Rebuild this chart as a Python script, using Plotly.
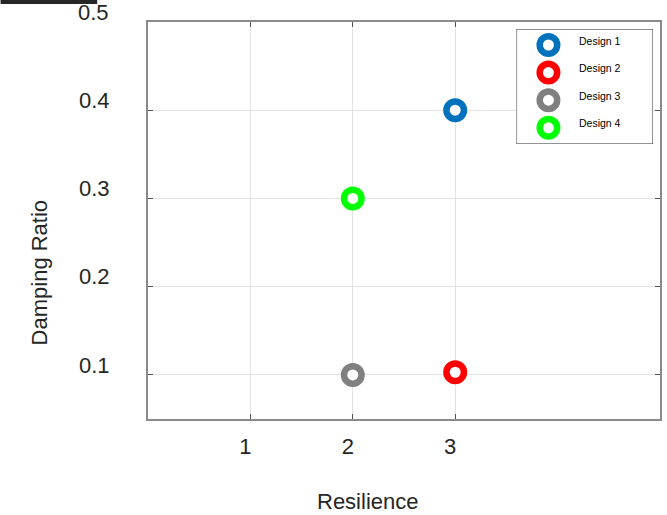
import plotly.graph_objects as go

# ---- data ----
designs = ["Design 1", "Design 2", "Design 3", "Design 4"]
resilience = [3, 3, 2, 2]
damping = [0.4, 0.103, 0.1, 0.3]
colors = ["#0072BD", "#FF0000", "#808080", "#00FF00"]
x_ticks = [1, 2, 3]
y_ticks = [0.1, 0.2, 0.3, 0.4, 0.5]
y_tick_text = ["0.1", "0.2", "0.3", "0.4", "0.5"]

FONT = "Liberation Sans, Arial, sans-serif"
TXT = "#262626"
W, H = 667, 515
L, R, T, B = 148, 5, 22, 96
pw, ph = W - L - R, H - T - B


def px2paper_x(px):
    return (px - L) / pw


def px2paper_y(py):
    return (H - B - py) / ph


fig = go.Figure()

ring = dict(size=17.5, line=dict(width=6.5))
for name, xv, yv, c in zip(designs, resilience, damping, colors):
    fig.add_trace(go.Scatter(
        x=[xv], y=[yv], mode="markers", name=name, showlegend=False,
        marker=dict(symbol="circle", color="white", size=ring["size"],
                    line=dict(color=c, width=ring["line"]["width"])),
        xaxis="x", yaxis="y", cliponaxis=False,
    ))

# ---- custom legend (own axes in pixel units) ----
lg_x0, lg_x1, lg_y0, lg_y1 = 518, 655, 29, 144
lg_w, lg_h = lg_x1 - lg_x0, lg_y1 - lg_y0
row0, row_gap = 16, 27.6
for i, (name, c) in enumerate(zip(designs, colors)):
    fig.add_trace(go.Scatter(
        x=[32], y=[row0 + i * row_gap], mode="markers", showlegend=False,
        hoverinfo="skip",
        marker=dict(symbol="circle", color="white", size=ring["size"],
                    line=dict(color=c, width=ring["line"]["width"])),
        xaxis="x2", yaxis="y2", cliponaxis=False,
    ))
    fig.add_annotation(x=61, y=row0 + i * row_gap - 4.5, xref="x2", yref="y2",
                       text=name, showarrow=False, xanchor="left", yanchor="middle",
                       font=dict(family=FONT, size=10.5, color="#000000"))

fig.add_shape(type="rect", xref="x2", yref="y2", x0=0, x1=lg_w, y0=0, y1=lg_h,
              fillcolor="white", line=dict(color="#262626", width=1), layer="below")

axis_common = dict(
    showline=True, linecolor="#8a8a8a", linewidth=2, mirror="ticks",
    ticks="inside", ticklen=5, tickcolor="#555555", tickwidth=1,
    showgrid=True, gridcolor="#e3e3e3", gridwidth=1, zeroline=False,
    tickfont=dict(family=FONT, size=22, color=TXT),
)

# the top label sits above the axes; it is written as an annotation below
y_axis_text = [t if v < max(y_ticks) else "" for v, t in zip(y_ticks, y_tick_text)]

fig.update_layout(
    width=W, height=H,
    margin=dict(l=L, r=R, t=T, b=B),
    paper_bgcolor="white", plot_bgcolor="white",
    font=dict(family=FONT, color=TXT),
    showlegend=False,
    xaxis=dict(range=[0, 5], tickvals=x_ticks, ticktext=[str(v) for v in x_ticks],
               ticklabelstandoff=7, ticklabelshift=-5, **axis_common),
    yaxis=dict(range=[0.05, 0.5], tickvals=y_ticks, ticktext=y_axis_text,
               ticklabelstandoff=32, ticklabelshift=-10, **axis_common),
    xaxis2=dict(domain=[px2paper_x(lg_x0), px2paper_x(lg_x1)], range=[0, lg_w],
                anchor="y2", visible=False, fixedrange=True),
    yaxis2=dict(domain=[px2paper_y(lg_y1), px2paper_y(lg_y0)], range=[lg_h, 0],
                anchor="x2", visible=False, fixedrange=True),
)

# top y tick label (shifted above the axes like the others)
fig.add_annotation(x=px2paper_x(111), y=px2paper_y(12.5), xref="paper", yref="paper",
                   text=y_tick_text[-1], showarrow=False,
                   xanchor="right", yanchor="middle",
                   font=dict(family=FONT, size=22, color=TXT))

# axis titles
fig.add_annotation(x=px2paper_x(39.5), y=px2paper_y(272.5), xref="paper", yref="paper",
                   text="Damping Ratio", textangle=-90, showarrow=False,
                   xanchor="center", yanchor="middle",
                   font=dict(family=FONT, size=22, color=TXT))
fig.add_annotation(x=px2paper_x(369), y=px2paper_y(501), xref="paper", yref="paper",
                   text="Resilience", showarrow=False,
                   xanchor="center", yanchor="middle",
                   font=dict(family=FONT, size=22, color=TXT))

# dark bar at the top-left edge of the picture
fig.add_shape(type="rect", xref="paper", yref="paper",
              x0=px2paper_x(0), x1=px2paper_x(97), y0=px2paper_y(4), y1=px2paper_y(-2),
              fillcolor="#262626", line=dict(width=0), layer="above")

fig.write_html("out.html", config={"displayModeBar": False},
               post_script="document.body.style.margin='0px';")
